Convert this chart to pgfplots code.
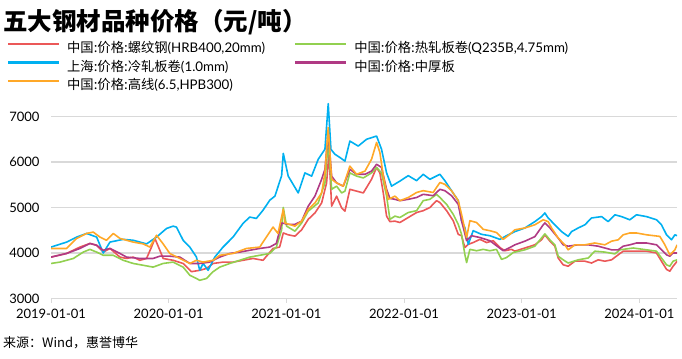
\documentclass[border=0pt]{standalone}
\usepackage{pgfplots}
\pgfplotsset{compat=1.18}
\usepackage{fontspec}
\setmainfont{Lato}
\newfontfamily\cjk{Noto Sans CJK SC}
\definecolor{cred}{RGB}{235,88,88}
\definecolor{cgreen}{RGB}{146,208,80}
\definecolor{cblue}{RGB}{0,176,240}
\definecolor{cpurple}{RGB}{176,58,132}
\definecolor{corange}{RGB}{255,168,40}
\definecolor{gridgray}{RGB}{217,217,217}
\begin{document}
\begin{tikzpicture}
\path[use as bounding box] (0bp,0bp) rectangle (682bp,-359bp);
\node[anchor=base west, inner sep=0pt] at (3bp,-30bp) {\cjk\bfseries\fontsize{24.5bp}{28bp}\selectfont 五大钢材品种价格（元/吨）};
\node[anchor=base west, inner sep=0pt] at (3bp,-347bp) {\cjk\fontsize{13bp}{15bp}\selectfont 来源：Wind，惠誉博华};
\begin{axis}[
  at={(51bp,-298.5bp)}, anchor=south west,
  width=626bp, height=200.2bp, scale only axis,
  xmin=2019, xmax=2024.32, ymin=3000, ymax=7400,
  xtick={2019,2020,2021,2022,2023,2024},
  xticklabels={2019-01-01,2020-01-01,2021-01-01,2022-01-01,2023-01-01,2024-01-01},
  ytick={3000,4000,5000,6000,7000},
  ymajorgrids,
  grid style={color=gridgray, line width=1.5bp},
  axis x line*=bottom, axis y line*=left,
  x axis line style={color=gridgray, line width=1.5bp, -},
  y axis line style={draw=none},
  xtick style={color=gridgray, line width=1bp},
  ytick style={draw=none},
  major tick length=4bp, tick align=outside,
  /pgf/number format/assume math mode=true,
  tick label style={font=\fontsize{13bp}{15bp}\selectfont, text=black},
  yticklabel style={/pgf/number format/1000 sep={}, xshift=-4bp},
  xticklabel style={yshift=-3.5bp},
  legend columns=2,
  legend cell align=left,
  legend image code/.code={\draw[#1, line width=2.2bp] (0bp,4.7bp) -- (51bp,4.7bp);},
  legend style={draw=none, fill=none, inner sep=0pt, outer sep=0pt,
    at={(axis description cs:-0.0703,1.2787)}, anchor=north west,
    font=\fontsize{13.3bp}{15bp}\selectfont,
    nodes={inner sep=0pt, text height=10bp, text depth=2.5bp},
    row sep=6bp,
    /tikz/every odd column/.append style={column sep=7bp},
    /tikz/every even column/.append style={column sep=29bp}},
  every axis plot/.append style={line width=1.6bp, line join=round},
]
% red: rebar
\addplot[cred] coordinates {
(2019.000,3910) (2019.133,3990) (2019.246,4130) (2019.331,4210) (2019.388,4170) (2019.444,4020) (2019.501,4100) (2019.586,3910) (2019.642,3880) (2019.699,3910) (2019.755,3840) (2019.812,3880) (2019.854,4130) (2019.883,4320) (2019.925,4060) (2019.953,3880) (2020.038,3840) (2020.123,3770) (2020.194,3590) (2020.264,3620) (2020.321,3660) (2020.378,3770) (2020.462,3800) (2020.547,3800) (2020.632,3840) (2020.717,3880) (2020.802,3840) (2020.887,4100)
(2020.943,4130) (2020.974,4440) (2021.016,4400) (2021.073,4370) (2021.130,4510) (2021.186,4740) (2021.243,4880) (2021.300,5100) (2021.342,5540) (2021.362,6200) (2021.385,5030) (2021.427,5250) (2021.470,4990) (2021.498,4920) (2021.540,5400) (2021.597,5360) (2021.654,5320) (2021.724,5620) (2021.767,5880) (2021.795,5760) (2021.824,5320) (2021.852,4810) (2021.880,4690) (2021.923,4700)
(2021.965,4670) (2022.036,4780) (2022.107,4890) (2022.163,4930) (2022.220,5000) (2022.277,5150) (2022.305,5110) (2022.362,4930) (2022.418,4710) (2022.461,4410) (2022.489,4380) (2022.517,4120) (2022.546,4190) (2022.588,4230) (2022.645,4300) (2022.702,4230) (2022.758,4270) (2022.815,4120) (2022.857,4050) (2022.914,4080)
(2022.942,4040) (2023.027,4110) (2023.112,4180) (2023.169,4290) (2023.197,4400) (2023.240,4260) (2023.282,4150) (2023.310,3890) (2023.353,3740) (2023.395,3710) (2023.452,3820) (2023.537,3820) (2023.594,3780) (2023.650,3850) (2023.707,3820) (2023.764,3850) (2023.820,3960) (2023.863,4040)
(2023.948,4040) (2024.061,4040) (2024.146,4000) (2024.188,3820) (2024.231,3640) (2024.259,3600) (2024.287,3710) (2024.321,3820)
};
\addlegendentry{{\cjk 中国:价格:螺纹钢}(HRB400,20mm)}
% green: hot rolled
\addplot[cgreen] coordinates {
(2019.000,3770) (2019.076,3800) (2019.190,3880) (2019.274,4020) (2019.331,4080) (2019.388,4020) (2019.444,3950) (2019.529,3950) (2019.614,3840) (2019.699,3770) (2019.784,3730) (2019.868,3690) (2019.953,3770) (2020.038,3800) (2020.123,3690) (2020.180,3510) (2020.236,3440) (2020.264,3400) (2020.321,3440) (2020.378,3590) (2020.434,3690) (2020.519,3770) (2020.604,3840) (2020.689,3910) (2020.774,3950) (2020.859,3990) (2020.915,4130)
(2020.960,4510) (2020.974,5000) (2021.002,4590) (2021.073,4480) (2021.130,4660) (2021.186,4920) (2021.271,5100) (2021.328,5540) (2021.356,6450) (2021.385,5400) (2021.427,5470) (2021.470,5320) (2021.498,5360) (2021.540,5760) (2021.597,5690) (2021.654,5650) (2021.724,5760) (2021.767,5880) (2021.809,5760) (2021.852,5250) (2021.880,4740) (2021.923,4810)
(2021.965,4780) (2022.036,4890) (2022.107,4930) (2022.163,5150) (2022.220,5180) (2022.277,5290) (2022.305,5220) (2022.362,5070) (2022.418,4850) (2022.461,4630) (2022.489,4410) (2022.517,3970) (2022.532,3790) (2022.560,4080) (2022.617,4050) (2022.673,4080) (2022.730,4050) (2022.786,4080) (2022.829,3860) (2022.871,3900) (2022.928,4010)
(2023.027,4070) (2023.112,4150) (2023.197,4420) (2023.240,4290) (2023.282,4180) (2023.310,3930) (2023.353,3850) (2023.395,3780) (2023.480,3850) (2023.565,3890) (2023.622,4040) (2023.707,4020) (2023.792,3980)
(2023.834,4070) (2023.948,4110) (2024.061,4070) (2024.146,4040) (2024.188,3890) (2024.231,3740) (2024.259,3710) (2024.287,3820) (2024.321,3850)
};
\addlegendentry{{\cjk 中国:价格:热轧板卷}(Q235B,4.75mm)}
% blue: cold rolled
\addplot[cblue] coordinates {
(2019.000,4130) (2019.133,4240) (2019.218,4350) (2019.303,4430) (2019.388,4350) (2019.444,4000) (2019.501,4240) (2019.614,4300) (2019.699,4280) (2019.812,4200) (2019.897,4350) (2019.982,4540) (2020.038,4590) (2020.066,4570) (2020.123,4280) (2020.180,4130) (2020.236,3910) (2020.264,3620) (2020.293,3770) (2020.335,3620) (2020.392,3910) (2020.462,4130) (2020.547,4350) (2020.632,4650) (2020.689,4790) (2020.745,4760) (2020.802,4940) (2020.859,5160) (2020.903,5250)
(2020.960,5700) (2020.974,6190) (2021.016,5690) (2021.101,5320) (2021.158,5760) (2021.215,5690) (2021.271,6060) (2021.328,6280) (2021.356,7280) (2021.379,6280) (2021.413,6170) (2021.455,6100) (2021.498,6020) (2021.540,6460) (2021.611,6350) (2021.682,6500) (2021.767,6570) (2021.809,6280) (2021.852,5760) (2021.894,5470) (2021.965,5580)
(2022.036,5700) (2022.107,5590) (2022.163,5730) (2022.220,5620) (2022.305,5730) (2022.347,5590) (2022.404,5370) (2022.461,5150) (2022.489,4710) (2022.517,4560) (2022.546,4190) (2022.588,4490) (2022.659,4410) (2022.730,4380) (2022.815,4300) (2022.871,4380) (2022.942,4470)
(2023.027,4550) (2023.112,4690) (2023.169,4800) (2023.197,4880) (2023.225,4770) (2023.282,4620) (2023.339,4470) (2023.395,4365) (2023.424,4470) (2023.480,4550) (2023.537,4620) (2023.594,4770) (2023.679,4800) (2023.735,4690) (2023.792,4840) (2023.849,4800) (2023.919,4730)
(2023.976,4840) (2024.061,4800) (2024.146,4730) (2024.188,4620) (2024.231,4400) (2024.273,4290) (2024.302,4400) (2024.321,4380)
};
\addlegendentry{{\cjk 上海:价格:冷轧板卷}(1.0mm)}
% purple: medium plate
\addplot[cpurple] coordinates {
(2019.000,3910) (2019.133,3990) (2019.246,4100) (2019.331,4210) (2019.388,4170) (2019.444,4060) (2019.501,4100) (2019.586,3990) (2019.642,3910) (2019.755,3880) (2019.868,3880) (2019.925,3930) (2020.010,3930) (2020.095,3910) (2020.180,3770) (2020.264,3770) (2020.349,3800) (2020.434,3910) (2020.519,3990) (2020.604,4020) (2020.689,4060) (2020.774,4100) (2020.859,4130) (2020.915,4210)
(2020.960,4660) (2021.016,4630) (2021.073,4630) (2021.130,4700) (2021.186,5030) (2021.243,5250) (2021.300,5620) (2021.328,5840) (2021.356,6650) (2021.385,5690) (2021.427,5540) (2021.484,5470) (2021.540,5840) (2021.597,5730) (2021.668,5730) (2021.724,5800) (2021.767,5950) (2021.809,5880) (2021.852,5400) (2021.880,5200) (2021.923,5180)
(2021.965,5150) (2022.036,5180) (2022.107,5220) (2022.163,5290) (2022.248,5260) (2022.305,5400) (2022.347,5370) (2022.404,5260) (2022.461,5070) (2022.489,4710) (2022.532,4270) (2022.574,4380) (2022.645,4340) (2022.730,4270) (2022.786,4160) (2022.843,4050) (2022.900,4120)
(2022.942,4180) (2023.027,4260) (2023.112,4360) (2023.183,4620) (2023.197,4660) (2023.240,4550) (2023.310,4330) (2023.353,4180) (2023.395,4150) (2023.480,4180) (2023.565,4180) (2023.650,4150) (2023.707,4110) (2023.764,4070) (2023.820,4070) (2023.863,4150) (2023.919,4180)
(2023.976,4220) (2024.061,4220) (2024.146,4180) (2024.188,4070) (2024.231,3960) (2024.259,3930) (2024.287,4000) (2024.321,4000)
};
\addlegendentry{{\cjk 中国:价格:中厚板}}
% orange: wire rod
\addplot[corange] coordinates {
(2019.000,4100) (2019.133,4100) (2019.218,4320) (2019.303,4430) (2019.359,4460) (2019.416,4350) (2019.472,4280) (2019.529,4430) (2019.586,4320) (2019.642,4280) (2019.699,4240) (2019.784,4200) (2019.840,4130) (2019.897,4390) (2019.953,4200) (2020.010,3990) (2020.095,3880) (2020.180,3770) (2020.236,3840) (2020.293,3800) (2020.378,3840) (2020.434,3950) (2020.547,3990) (2020.661,4100) (2020.774,4130) (2020.830,4350) (2020.887,4570) (2020.929,4430) (2020.974,4960)
(2020.988,4660) (2021.073,4590) (2021.130,4700) (2021.186,4960) (2021.243,5100) (2021.300,5320) (2021.328,5760) (2021.356,6760) (2021.385,5620) (2021.427,5540) (2021.484,5470) (2021.540,5910) (2021.597,5730) (2021.668,5800) (2021.724,6060) (2021.767,6430) (2021.795,6210) (2021.824,5690) (2021.866,5180) (2021.923,5250)
(2021.965,5150) (2022.036,5220) (2022.107,5330) (2022.163,5370) (2022.248,5330) (2022.305,5550) (2022.347,5510) (2022.404,5370) (2022.461,5150) (2022.489,4850) (2022.532,4340) (2022.560,4710) (2022.617,4670) (2022.673,4520) (2022.730,4490) (2022.786,4450) (2022.843,4300) (2022.900,4410)
(2022.942,4510) (2023.027,4550) (2023.112,4620) (2023.183,4730) (2023.225,4690) (2023.254,4550) (2023.310,4330) (2023.367,4180) (2023.395,4070) (2023.452,4180) (2023.537,4180) (2023.622,4220) (2023.707,4180) (2023.764,4260) (2023.820,4290) (2023.863,4400) (2023.919,4440)
(2023.976,4440) (2024.061,4400) (2024.174,4365) (2024.217,4180) (2024.259,3960) (2024.302,4070) (2024.321,4180)
};
\addlegendentry{{\cjk 中国:价格:高线}(6.5,HPB300)}
\end{axis}
\end{tikzpicture}
\end{document}
